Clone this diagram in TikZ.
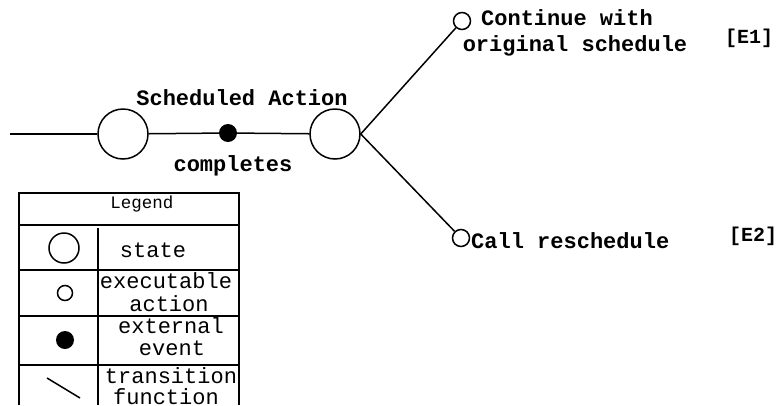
\documentclass[tikz,border=0pt]{standalone}
\usepackage{fontspec}
\setmainfont{Liberation Mono}
\begin{document}
\begin{tikzpicture}[x=1pt,y=-1pt,
  state/.style={circle,draw,line width=1.5pt,minimum size=50pt,inner sep=0pt},
  act/.style={circle,draw,line width=1.5pt,minimum size=17pt,inner sep=0pt},
  evt/.style={circle,fill,minimum size=18pt,inner sep=0pt},
  lbl/.style={font=\fontsize{22}{28}\selectfont\bfseries,inner sep=0pt,anchor=base},
  lbll/.style={font=\fontsize{22}{28}\selectfont\bfseries,inner sep=0pt,anchor=base west},
  tag/.style={font=\fontsize{20}{24}\selectfont\bfseries,inner sep=0pt,anchor=base},
  leg/.style={font=\fontsize{22}{24}\selectfont,inner sep=0pt,anchor=base},
  tr/.style={line width=1.5pt},
  box/.style={line width=1.8pt}]
\useasboundingbox (0,0) rectangle (780,405);
\clip (0,0) rectangle (780,405);
% main diagram
\coordinate (start) at (10,134);
\node[state] (c1) at (123,134) {};
\node[evt] (e) at (228,133) {};
\node[state] (c2) at (335,134) {};
\node[act] (s1) at (462,21) {};
\node[act] (s2) at (461,238) {};
\draw[tr] (start) -- (c1);
\draw[tr] (c1) -- (e);
\draw[tr] (e) -- (c2);
\draw[tr] (c2.east) -- (s1);
\draw[tr] (c2.east) -- (s2);
\node[lbl] (t1) at (242,105) {Scheduled Action};
\node[lbl] (t2) at (233,171) {completes};
\node[lbl] (t3) at (567,25) {Continue with};
\node[lbl] (t4) at (575,51) {original schedule};
\node[tag] (t5) at (749,43) {[E1]};
\node[lbll] (t6) at (471,248) {Call reschedule};
\node[tag] (t7) at (753,241) {[E2]};
% legend
\draw[box] (19,405) -- (19,193) -- (239,193) -- (239,405);
\draw[box] (19,225) -- (239,225);
\draw[box] (19,270) -- (239,270);
\draw[box] (19,316) -- (239,316);
\draw[box] (19,365) -- (239,365);
\draw[box] (98,228) -- (98,405);
\node[leg,font=\fontsize{17.5}{20}\selectfont] (lg) at (142,208) {Legend};
\node[state,minimum size=30pt] (ls) at (64,248) {};
\node[act,minimum size=15pt] (la) at (65,293) {};
\node[evt] (le) at (65,340) {};
\coordinate (lt1) at (47,378);
\coordinate (lt2) at (80,398);
\draw[tr] (lt1) -- (lt2);
\node[leg] (l1) at (153,257) {state};
\node[leg] (l2) at (166,288) {executable};
\node[leg] (l3) at (169,311) {action};
\node[leg] (l4) at (171,333) {external};
\node[leg] (l5) at (172,355) {event};
\node[leg] (l6) at (171,383) {transition};
\node[leg] (l7) at (166,404) {function};
\end{tikzpicture}
\end{document}
